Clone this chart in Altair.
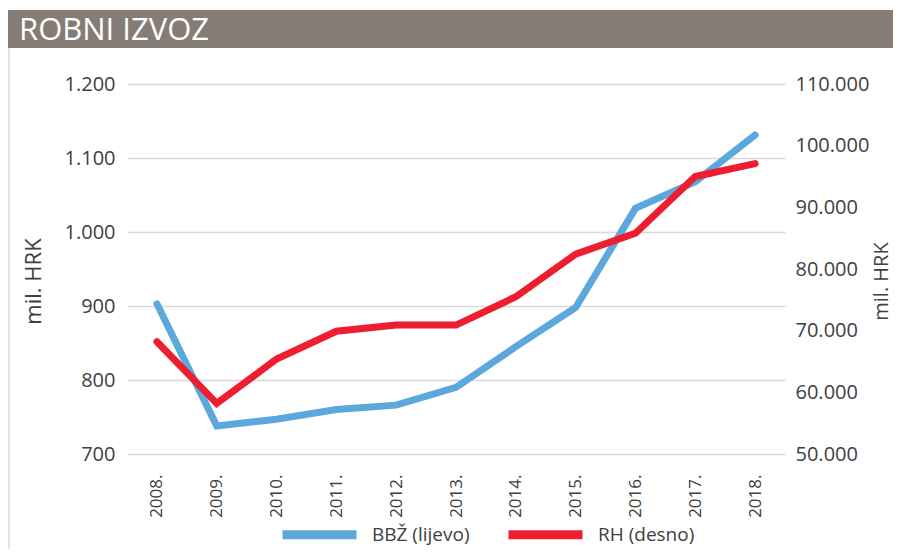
import altair as alt
import pandas as pd

# ---- data ----
years = ["2008.", "2009.", "2010.", "2011.", "2012.", "2013.", "2014.", "2015.", "2016.", "2017.", "2018."]
bbz = [903, 738, 747, 760, 766, 790, 845, 898, 1032, 1068, 1131]
rh = [68200, 58200, 65400, 69900, 70900, 70900, 75500, 82400, 85800, 95000, 97100]
series_names = ["BBŽ (lijevo)", "RH (desno)"]
left_ticks = [700, 800, 900, 1000, 1100, 1200]
right_ticks = [50000, 60000, 70000, 80000, 90000, 100000, 110000]
chart_title = ["ROBNI IZVOZ"]
axis_title = "mil. HRK"

# ---- layout / style ----
W, H = 658, 370
PAD_L, PAD_T, PAD_R, PAD_B = 119, 76, 108, 95
FONT = "Open Sans"
TXT = "#404040"
BLUE = "#5ba9dc"
RED = "#ee1d2f"
BAR = "#857c75"
GRID = "#d9d9d9"

df = pd.DataFrame({
    "year": years * 2,
    "value": bbz + rh,
    "series": [series_names[0]] * len(years) + [series_names[1]] * len(years),
})

dot_fmt = "replace(format(datum.value, ','), regexp(',', 'g'), '.')"

x_enc = alt.X(
    "year:N", sort=years,
    scale=alt.Scale(type="point", padding=0.5),
    axis=alt.Axis(title=None, labelAngle=-90, labelFont=FONT, labelFontSize=17,
                  labelColor=TXT, labelPadding=20, ticks=False, tickSize=0,
                  domain=False, grid=False),
)

color_enc = alt.Color(
    "series:N",
    scale=alt.Scale(domain=series_names, range=[BLUE, RED]),
    legend=alt.Legend(title=None, orient="none", legendX=151, legendY=409,
                      direction="horizontal", symbolType="stroke", symbolSize=5476,
                      symbolStrokeWidth=9, labelFont=FONT, labelFontSize=19,
                      labelColor=TXT, labelOffset=11, columnPadding=20),
)

base = alt.Chart(df)

left = base.transform_filter(alt.datum.series == series_names[0]).mark_line(
    strokeWidth=7, strokeCap="round"
).encode(
    x=x_enc,
    y=alt.Y("value:Q",
            scale=alt.Scale(domain=[700, 1200], nice=False, zero=False),
            axis=alt.Axis(values=left_ticks, labelExpr=dot_fmt, title=axis_title,
                          titleFont=FONT, titleFontSize=22, titleFontWeight="normal",
                          titleColor=TXT, titleX=-82, titleY=197,
                          labelFont=FONT, labelFontSize=20, labelColor=TXT,
                          labelPadding=12, ticks=False, tickSize=0, domain=False,
                          grid=True, gridColor=GRID, gridWidth=1.5)),
    color=color_enc,
)

right = base.transform_filter(alt.datum.series == series_names[1]).mark_line(
    strokeWidth=7, strokeCap="round"
).encode(
    x=x_enc,
    y=alt.Y("value:Q",
            scale=alt.Scale(domain=[50000, 110000], nice=False, zero=False),
            axis=alt.Axis(orient="right", values=right_ticks, labelExpr=dot_fmt,
                          title=axis_title, titleFont=FONT, titleFontSize=20,
                          titleFontWeight="normal", titleColor=TXT, titleAngle=-90,
                          titleX=86, titleY=197, titleBaseline="top", titleAlign="center",
                          labelFont=FONT, labelFontSize=20, labelColor=TXT,
                          labelPadding=10, ticks=False, tickSize=0, domain=False,
                          grid=False)),
    color=color_enc,
)

deco_df = pd.DataFrame({"t": chart_title})

bar = alt.Chart(deco_df).mark_rect(color=BAR).encode(
    x=alt.value(-PAD_L), x2=alt.value(W + PAD_R),
    y=alt.value(-74), y2=alt.value(-36),
)

border = alt.Chart(deco_df).mark_rule(color="#e4e4e4", strokeWidth=2).encode(
    x=alt.value(-PAD_L + 1), y=alt.value(-36), y2=alt.value(H + PAD_B),
)

title_txt = alt.Chart(deco_df).mark_text(
    color="white", font=FONT, fontSize=31, align="left", baseline="alphabetic"
).encode(
    x=alt.value(-108), y=alt.value(-44), text="t:N",
)

chart = alt.layer(left, right, bar, border, title_txt).resolve_scale(
    y="independent"
).properties(
    width=W, height=H,
    autosize=alt.AutoSizeParams(type="none"),
    padding={"left": PAD_L, "top": PAD_T, "right": PAD_R, "bottom": PAD_B},
).configure(font=FONT, view=alt.ViewConfig(stroke=None))

chart.save("out.html", embed_options={"renderer": "svg", "actions": False})
